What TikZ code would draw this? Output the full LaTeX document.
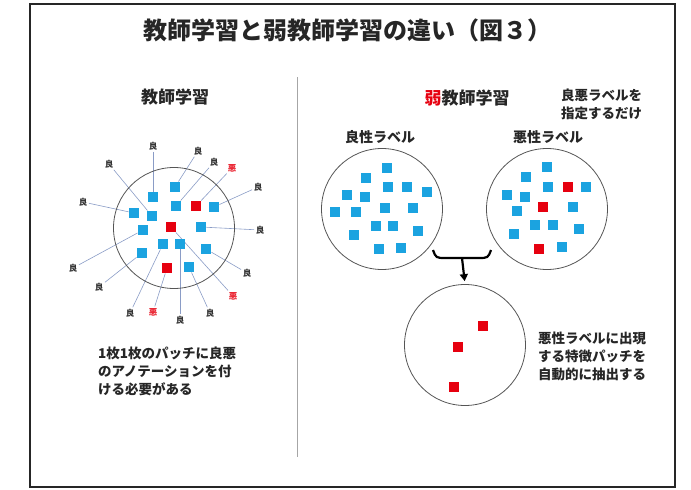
\documentclass[tikz,border=0pt]{standalone}
\usepackage{fontspec}
\newfontfamily\jp{Noto Sans CJK JP}
\usetikzlibrary{arrows.meta,backgrounds}
\definecolor{sqblue}{HTML}{1BA3E0}
\definecolor{sqred}{HTML}{E6000F}
\definecolor{lnblue}{HTML}{8A9CC6}
\definecolor{ringgray}{HTML}{555555}
\begin{document}
\begin{tikzpicture}[x=1pt,y=-1pt,
  bsq/.style={fill=sqblue, minimum size=10.5pt, inner sep=0pt},
  rsq/.style={fill=sqred, minimum size=10.5pt, inner sep=0pt},
  ring/.style={circle, draw=ringgray, line width=0.8pt, minimum size=121pt, inner sep=0pt},
  good/.style={font=\jp\bfseries\fontsize{8.5}{9}\selectfont, text=black!80, inner sep=1.5pt},
  bad/.style={font=\jp\bfseries\fontsize{8.5}{9}\selectfont, text=sqred!85, inner sep=1.5pt},
  ptr/.style={draw=lnblue, line width=0.6pt},
  txt/.style={font=\jp\bfseries\fontsize{13.5}{18}\selectfont, align=left, inner sep=0pt, text=black!85},
  head/.style={font=\jp\bfseries\fontsize{17}{20}\selectfont, text=black!85, inner sep=0pt}
]
\useasboundingbox (0,0) rectangle (691,490);
\draw[line width=2pt, black!85] (30,4) rectangle (675,487);

% title
\node[font=\jp\bfseries\fontsize{24}{28}\selectfont, text=black!85, inner sep=0pt] (title) at (347,30) {教師学習と弱教師学習の違い（図３）};

% divider
\coordinate (dtop) at (297,77);
\coordinate (dbot) at (297,457);
\draw[gray!70, line width=1pt] (dtop) -- (dbot);

% ===== left =====
\node[head] (lhead) at (175,97) {教師学習};
\node[ring] (lc) at (174,228) {};

\node[bsq] (L1) at (175,187) {};
\node[bsq] (L2) at (153,197) {};
\node[bsq] (L3) at (176,206) {};
\node[rsq] (L4) at (196,206) {};
\node[bsq] (L5) at (214,207) {};
\node[bsq] (L6) at (134,213) {};
\node[bsq] (L7) at (152,216) {};
\node[rsq] (L8) at (171,227) {};
\node[bsq] (L9) at (143,230) {};
\node[bsq] (L10) at (201,227) {};
\node[bsq] (L11) at (163,244) {};
\node[bsq] (L12) at (180,244) {};
\node[bsq] (L13) at (206,249) {};
\node[bsq] (L14) at (142,253) {};
\node[rsq] (L15) at (167,268) {};
\node[bsq] (L16) at (189,267) {};

\node[good] (a1) at (153,146) {良};
\node[good] (a2) at (198,151) {良};
\node[good] (a3) at (214,162) {良};
\node[bad]  (a4) at (232,168) {悪};
\node[good] (a5) at (109,164) {良};
\node[good] (a6) at (258,187) {良};
\node[good] (a7) at (83,202) {良};
\node[good] (a8) at (260,230) {良};
\node[good] (a9) at (73,268) {良};
\node[good] (a10) at (247,273) {良};
\node[good] (a11) at (99,287) {良};
\node[bad]  (a12) at (233,296) {悪};
\node[good] (a13) at (130,313) {良};
\node[bad]  (a14) at (153,312) {悪};
\node[good] (a15) at (180,320) {良};
\node[good] (a16) at (210,313) {良};

\begin{scope}[on background layer]
\draw[ptr] (a1) -- (L2);
\draw[ptr] (a2) -- (L1);
\draw[ptr] (a3) -- (L3);
\draw[ptr] (a4) -- (L4);
\draw[ptr] (a5) -- (L7);
\draw[ptr] (a6) -- (L5);
\draw[ptr] (a7) -- (L6);
\draw[ptr] (a8) -- (L10);
\draw[ptr] (a9) -- (L9);
\draw[ptr] (a10) -- (L13);
\draw[ptr] (a11) -- (L14);
\draw[ptr] (a12) -- (L8);
\draw[ptr] (a13) -- (L11);
\draw[ptr] (a14) -- (L15);
\draw[ptr] (a15) -- (L12);
\draw[ptr] (a16) -- (L16);
\end{scope}

\node[txt, anchor=west] (ltxt) at (98,371) {1枚1枚のパッチに良悪\\のアノテーションを付\\ける必要がある};

% ===== right =====
\node[head] (rhead) at (467,98) {\textcolor{sqred}{弱}教師学習};
\node[txt, anchor=west] (rnote) at (561,104) {良悪ラベルを\\指定するだけ};

\node[txt, font=\jp\bfseries\fontsize{14}{16}\selectfont] (gl) at (380,137) {良性ラベル};
\node[txt, font=\jp\bfseries\fontsize{14}{16}\selectfont] (bl) at (548,137) {悪性ラベル};

\node[ring] (c1) at (382,209) {};
\node[ring] (c2) at (547,209) {};
\node[ring] (c3) at (465,345) {};

% circle 1 squares
\foreach \x/\y [count=\i] in {387/168,366/178,388/187,407/187,427/192,347/195,365/197,335/212,356/212,385/208,413/208,376/226,393/226,418/231,354/235,379/249,401/248}
  \node[bsq] (g\i) at (\x,\y) {};

% circle 2 squares
\foreach \x/\y [count=\i] in {547/167,526/177,548/187,586/187,507/195,525/197,517/211,573/207,535/225,553/225,579/229,514/234,562/247}
  \node[bsq] (b\i) at (\x,\y) {};
\node[rsq] (br1) at (568,187) {};
\node[rsq] (br2) at (543,207) {};
\node[rsq] (br3) at (539,249) {};

% circle 3 squares
\node[rsq] (e1) at (483,326) {};
\node[rsq] (e2) at (458,347) {};
\node[rsq] (e3) at (454,387) {};

% bracket + arrow
\coordinate (bl1) at (433,250);
\coordinate (br) at (491,250);
\coordinate (stem) at (462,258);
\draw[line width=2.2pt, black] (bl1) .. controls (436,258) .. (446,258) -- (478,258) .. controls (488,258) .. (br);
\draw[line width=2.2pt, black, -{Triangle[length=7pt,width=8pt]}, shorten >=3pt] (stem) -- (c3.north);

\node[txt, anchor=west] (etxt) at (538,356) {悪性ラベルに出現\\する特徴パッチを\\自動的に抽出する};
\end{tikzpicture}
\end{document}
